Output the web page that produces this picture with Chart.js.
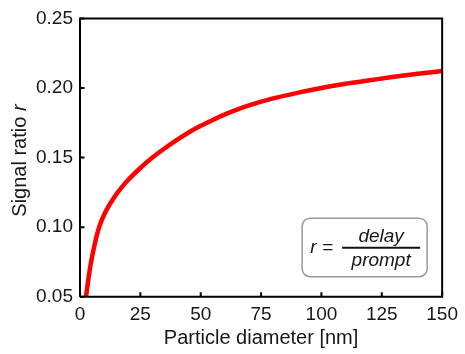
<!DOCTYPE html>
<html lang="en">

<head>
    <meta charset="UTF-8">
    <title>Signal ratio</title>
    <script src="https://cdn.jsdelivr.net/npm/chart.js"></script>
    <style>
        html, body { margin: 0; padding: 0; background: #fff; }
        #wrap { width: 465px; height: 354px; }
    </style>
</head>

<body>
    <div id="wrap">
        <canvas id="myChart"></canvas>
    </div>
</body>
<script>
    // diametro das particulas [nm] e razao de sinal r
    const diametros = [2.5, 3.5, 4.6, 6, 7.4, 9, 11.5, 14, 17, 20, 25, 30, 35, 40, 45, 50, 55, 60, 65, 70, 80, 90, 100, 110, 120, 130, 140, 150];
    const razaoSinal = [0.05, 0.063, 0.075, 0.087, 0.097, 0.105, 0.114, 0.121, 0.128, 0.134, 0.1425, 0.150, 0.1565, 0.1625, 0.168, 0.1728, 0.177, 0.181, 0.1845, 0.1875, 0.1925, 0.1965, 0.200, 0.203, 0.2055, 0.208, 0.2102, 0.2122];
    const ticksX = [0, 25, 50, 75, 100, 125, 150];
    const ticksY = [0.05, 0.10, 0.15, 0.20, 0.25];

    const fonte = "'Liberation Sans', Arial, sans-serif";
    const corTexto = '#16161f';

    const pontos = [];
    for (let i = 0; i < diametros.length; i++) {
        pontos.push({ x: diametros[i], y: razaoSinal[i] });
    }

    // moldura, ticks pra dentro, titulo do eixo y e caixa da formula
    const extras = {
        id: 'extras',
        afterDraw(chart) {
            const c = chart.ctx;
            const a = chart.chartArea;
            const sx = chart.scales.x;
            const sy = chart.scales.y;

            c.save();
            c.strokeStyle = '#000';
            c.lineWidth = 2;
            c.beginPath();
            c.moveTo(a.left, a.bottom);
            c.lineTo(a.left, a.top);
            c.lineTo(a.right, a.top);
            c.lineTo(a.right, a.bottom);
            c.lineTo(a.left, a.bottom);
            c.stroke();

            c.beginPath();
            ticksX.forEach(function (v) {
                const px = sx.getPixelForValue(v);
                c.moveTo(px, a.bottom);
                c.lineTo(px, a.bottom - 4.5);
            });
            ticksY.forEach(function (v) {
                const py = sy.getPixelForValue(v);
                c.moveTo(a.left, py);
                c.lineTo(a.left + 4.5, py);
            });
            c.stroke();

            // titulo do eixo y com r em italico
            c.fillStyle = corTexto;
            c.textBaseline = 'middle';
            const normal = '20px ' + fonte;
            const italico = 'italic 20px ' + fonte;
            c.font = normal;
            const w1 = c.measureText('Signal ratio ').width;
            c.font = italico;
            const w2 = c.measureText('r').width;
            c.translate(20, (a.top + a.bottom) / 2 + 3);
            c.rotate(-Math.PI / 2);
            c.textAlign = 'left';
            c.font = normal;
            c.fillText('Signal ratio ', -(w1 + w2) / 2, 0);
            c.font = italico;
            c.fillText('r', -(w1 + w2) / 2 + w1, 0);
            c.restore();

            // caixa r = delay / prompt
            c.save();
            const bx = a.right - 140;
            const by = a.bottom - 78.5;
            const bw = 125;
            const bh = 58.5;
            c.beginPath();
            c.roundRect(bx, by, bw, bh, 8);
            c.fillStyle = '#fff';
            c.fill();
            c.strokeStyle = '#9a9a9a';
            c.lineWidth = 1.5;
            c.stroke();

            c.fillStyle = corTexto;
            c.font = 'italic 19px ' + fonte;
            c.textBaseline = 'middle';
            c.textAlign = 'left';
            c.fillText('r', bx + 8, by + 30);
            c.font = '19px ' + fonte;
            c.fillText('=', bx + 20, by + 30);

            const fx1 = bx + 40;
            const fx2 = bx + 118;
            c.strokeStyle = '#111';
            c.lineWidth = 2;
            c.beginPath();
            c.moveTo(fx1, by + 29.5);
            c.lineTo(fx2, by + 29.5);
            c.stroke();

            c.font = 'italic 19px ' + fonte;
            c.textAlign = 'center';
            c.textBaseline = 'alphabetic';
            c.fillText('delay', (fx1 + fx2) / 2, by + 24);
            c.fillText('prompt', (fx1 + fx2) / 2, by + 48);
            c.restore();
        }
    };

    const config = {
        type: 'line',
        data: {
            datasets: [{
                label: 'r',
                data: pontos,
                borderColor: '#ff0000',
                backgroundColor: '#ff0000',
                borderWidth: 4.5,
                pointRadius: 0,
                fill: false,
                cubicInterpolationMode: 'monotone',
                clip: false
            }]
        },
        options: {
            responsive: true,
            maintainAspectRatio: false,
            animation: false,
            layout: {
                padding: { top: 15.7, right: 18.3, left: 0, bottom: 0 }
            },
            plugins: {
                legend: { display: false },
                tooltip: { enabled: false }
            },
            scales: {
                x: {
                    type: 'linear',
                    min: 0,
                    max: 150,
                    afterFit: function (scale) { scale.height = 57.3; },
                    afterBuildTicks: function (scale) {
                        scale.ticks = ticksX.map(function (v) { return { value: v }; });
                    },
                    grid: { display: false, drawTicks: false },
                    border: { display: false },
                    ticks: {
                        color: corTexto,
                        padding: 7,
                        maxRotation: 0,
                        font: { family: fonte, size: 19 }
                    },
                    title: {
                        display: true,
                        text: 'Particle diameter [nm]',
                        color: corTexto,
                        font: { family: fonte, size: 20 },
                        padding: { top: 0, bottom: 4 }
                    }
                },
                y: {
                    type: 'linear',
                    min: 0.05,
                    max: 0.25,
                    afterFit: function (scale) { scale.width = 80; },
                    afterBuildTicks: function (scale) {
                        scale.ticks = ticksY.map(function (v) { return { value: v }; });
                    },
                    grid: { display: false, drawTicks: false },
                    border: { display: false },
                    ticks: {
                        color: corTexto,
                        padding: 7,
                        font: { family: fonte, size: 19 },
                        callback: function (v) { return v.toFixed(2); }
                    }
                }
            }
        },
        plugins: [extras]
    };

    let myChart = new Chart(document.getElementById('myChart'), config);
</script>

</html>
